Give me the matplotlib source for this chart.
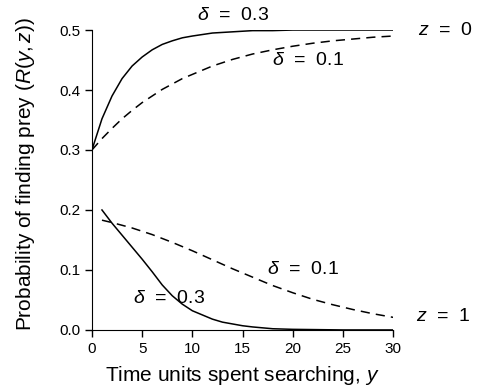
import matplotlib
matplotlib.use('Agg')
import matplotlib.pyplot as plt

plt.rcParams['font.family'] = ['Liberation Sans', 'DejaVu Sans']
plt.rcParams['mathtext.fontset'] = 'custom'
plt.rcParams['mathtext.rm'] = 'Liberation Sans'
plt.rcParams['mathtext.it'] = 'Liberation Sans:italic'

# z = 0 curves
y0_fast = [0, 1, 2, 3, 4, 5, 6, 7, 8, 9, 10, 12, 14, 16, 18, 20, 25, 30]
r0_fast = [0.300, 0.352, 0.390, 0.419, 0.440, 0.455, 0.467, 0.476, 0.482,
           0.487, 0.490, 0.495, 0.497, 0.499, 0.499, 0.500, 0.500, 0.500]
y0_slow = [0, 1, 2, 3, 4, 5, 6, 7, 8, 9, 10, 12, 14, 16, 18, 20, 22, 24, 26, 28, 30]
r0_slow = [0.300, 0.319, 0.336, 0.352, 0.366, 0.379, 0.390, 0.401, 0.410, 0.419,
           0.426, 0.440, 0.451, 0.460, 0.467, 0.473, 0.478, 0.482, 0.485, 0.488, 0.490]

# z = 1 curves
y1_fast = [1, 2, 3, 4, 5, 6, 7, 8, 9, 10, 11, 12, 13, 14, 15, 16, 18, 20, 25, 30]
r1_fast = [0.200, 0.178, 0.158, 0.138, 0.118, 0.097, 0.075, 0.057, 0.043, 0.032,
           0.025, 0.018, 0.013, 0.010, 0.007, 0.005, 0.002, 0.001, 0.000, 0.000]
y1_slow = [1, 2, 4, 6, 8, 10, 12, 14, 16, 18, 20, 22, 24, 26, 28, 30]
r1_slow = [0.183, 0.179, 0.170, 0.159, 0.146, 0.132, 0.117, 0.102, 0.088, 0.074,
           0.062, 0.051, 0.042, 0.034, 0.027, 0.021]

fig = plt.figure(figsize=(4.89, 3.9), dpi=100)
ax = fig.add_axes([0.188, 0.154, 0.616, 0.769])

ax.plot(y0_fast, r0_fast, 'k-', lw=1.1)
ax.plot(y0_slow, r0_slow, 'k--', lw=1.1, dashes=(6, 4))
ax.plot(y1_fast, r1_fast, 'k-', lw=1.1)
ax.plot(y1_slow, r1_slow, 'k--', lw=1.1, dashes=(6, 4))

ax.set_xlim(0, 30)
ax.set_ylim(0, 0.5)
ax.set_xticks([0, 5, 10, 15, 20, 25, 30])
ax.set_yticks([0.0, 0.1, 0.2, 0.3, 0.4, 0.5])
ax.set_yticklabels(['0.0', '0.1', '0.2', '0.3', '0.4', '0.5'])
for s in ['top', 'right']:
    ax.spines[s].set_visible(False)
ax.tick_params(direction='out', length=5, width=1, labelsize=11)

ax.set_xlabel('Time units spent searching, $\\it{y}$', fontsize=15)
ax.set_ylabel('Probability of finding prey ($\\it{R}$($\\it{y,z}$))', fontsize=15)
ax.xaxis.set_label_coords(0.5, -0.115)
ax.yaxis.set_label_coords(-0.183, 0.52)

kw = dict(fontsize=14, ha='center', va='center', clip_on=False)
ax.text(14.1, 0.525, '$\\delta$  =  0.3', **kw)
ax.text(21.5, 0.45, '$\\delta$  =  0.1', **kw)
ax.text(35.2, 0.5, '$z$  =  0', **kw)
ax.text(21.0, 0.10, '$\\delta$  =  0.1', **kw)
ax.text(7.7, 0.053, '$\\delta$  =  0.3', **kw)
ax.text(35.0, 0.022, '$z$  =  1', **kw)

fig.savefig('out.png', dpi=100)
